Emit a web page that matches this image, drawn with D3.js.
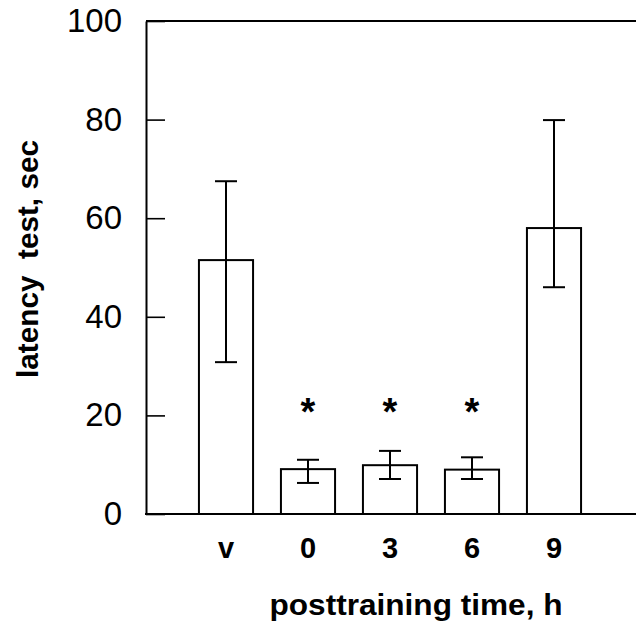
<!DOCTYPE html>
<html>
<head>
<meta charset="utf-8">
<script src="https://cdn.jsdelivr.net/npm/d3@7"></script>
<style>
  body { margin: 0; background: #fff; }
  svg { display: block; font-family: Arial, "Liberation Sans", sans-serif; }
</style>
</head>
<body>
<svg id="chart" width="636" height="631"></svg>
<script>
// values
const groups = ["v", "0", "3", "6", "9"]
const means = [51.5, 9.1, 9.9, 9.0, 58.0]
const upper = [67.5, 11.0, 12.8, 11.5, 79.9]
const lower = [30.8, 6.3, 7.1, 7.1, 46.0]
const starred = [false, true, true, true, false]
const yTicks = [0, 20, 40, 60, 80, 100]

let svg = d3.select("#chart")

let plotLeft = 146, plotRight = 636, plotTop = 21, plotBottom = 514

let x = d3.scaleBand() // bar slots
    .domain(groups)
    .range([185, 595])
    .paddingInner(0.34)
    .paddingOuter(0.17)

let y = d3.scaleLinear()
    .domain([0, 100])
    .range([plotBottom, plotTop])

// y axis, ticks pointing into the plot
let yAxis = d3.axisLeft(y)
    .tickValues(yTicks)
    .tickSizeInner(-19)
    .tickSizeOuter(0)
    .tickPadding(24)

let gy = svg.append("g")
    .attr("transform", `translate(${plotLeft},0)`)
    .call(yAxis)
gy.select(".domain").attr("stroke", "#000").attr("stroke-width", 2)
gy.selectAll(".tick line").attr("stroke", "#000").attr("stroke-width", 1.6)
gy.selectAll(".tick text")
    .attr("fill", "#000")
    .style("font-size", "33px")

// top frame line and x baseline
svg.append("line")
    .attr("x1", plotLeft).attr("x2", plotRight)
    .attr("y1", y(100)).attr("y2", y(100))
    .attr("stroke", "#000").attr("stroke-width", 1.8)
svg.append("line")
    .attr("x1", plotLeft - 1).attr("x2", plotRight)
    .attr("y1", y(0)).attr("y2", y(0))
    .attr("stroke", "#000").attr("stroke-width", 2)

// bars
svg.selectAll("rect.bar")
    .data(groups)
    .enter()
    .append("rect")
    .attr("class", "bar")
    .attr("x", d => x(d))
    .attr("y", (d, i) => y(means[i]))
    .attr("width", x.bandwidth())
    .attr("height", (d, i) => y(0) - y(means[i]))
    .attr("fill", "none")
    .attr("stroke", "#000")
    .attr("stroke-width", 2)

// error bars
let capHalf = 11
let err = svg.selectAll("g.err")
    .data(groups)
    .enter()
    .append("g")
    .attr("class", "err")
    .attr("stroke", "#000")
    .attr("stroke-width", 2)

err.append("line")
    .attr("x1", d => x(d) + x.bandwidth() / 2)
    .attr("x2", d => x(d) + x.bandwidth() / 2)
    .attr("y1", (d, i) => y(upper[i]))
    .attr("y2", (d, i) => y(lower[i]))
err.append("line")
    .attr("x1", d => x(d) + x.bandwidth() / 2 - capHalf)
    .attr("x2", d => x(d) + x.bandwidth() / 2 + capHalf)
    .attr("y1", (d, i) => y(upper[i]))
    .attr("y2", (d, i) => y(upper[i]))
err.append("line")
    .attr("x1", d => x(d) + x.bandwidth() / 2 - capHalf)
    .attr("x2", d => x(d) + x.bandwidth() / 2 + capHalf)
    .attr("y1", (d, i) => y(lower[i]))
    .attr("y2", (d, i) => y(lower[i]))

// significance stars
svg.selectAll("text.star")
    .data(groups.filter((d, i) => starred[i]))
    .enter()
    .append("text")
    .attr("class", "star")
    .attr("x", d => x(d) + x.bandwidth() / 2)
    .attr("y", y(22.5) + 22)
    .attr("text-anchor", "middle")
    .style("font-size", "38px")
    .style("font-weight", "bold")
    .text("*")

// category labels
svg.selectAll("text.cat")
    .data(groups)
    .enter()
    .append("text")
    .attr("class", "cat")
    .attr("x", d => x(d) + x.bandwidth() / 2)
    .attr("y", 558)
    .attr("text-anchor", "middle")
    .style("font-size", "29px")
    .style("font-weight", "bold")
    .text(d => d)

// axis titles
svg.append("text")
    .attr("x", 416)
    .attr("y", 615)
    .attr("text-anchor", "middle")
    .attr("textLength", 293)
    .attr("lengthAdjust", "spacingAndGlyphs")
    .style("font-size", "29px")
    .style("font-weight", "bold")
    .text("posttraining time, h")

svg.append("text")
    .attr("transform", "translate(38,259) rotate(-90)")
    .attr("text-anchor", "middle")
    .attr("textLength", 238)
    .attr("lengthAdjust", "spacingAndGlyphs")
    .style("font-size", "29px")
    .style("font-weight", "bold")
    .style("white-space", "pre")
    .text("latency  test, sec")
</script>
</body>
</html>
